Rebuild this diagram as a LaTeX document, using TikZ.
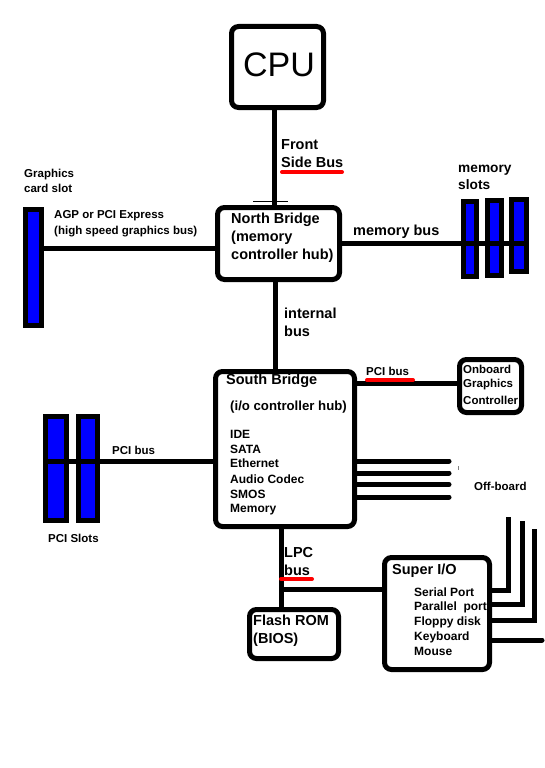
\documentclass[tikz,border=0pt]{standalone}
\usepackage{fontspec}
\setmainfont{Liberation Sans}
\begin{document}
\begin{tikzpicture}[x=1pt,y=-1pt,
  box/.style={draw=black, line width=5pt, rounded corners=7pt, inner sep=0pt, fill=white},
  slot/.style={draw=black, line width=5pt, fill=blue, inner sep=0pt},
  bus/.style={draw=black, line width=5pt},
  redline/.style={draw=red, line width=4pt, line cap=round},
  big/.style={anchor=base west, inner sep=0pt, font=\bfseries\fontsize{14.5}{16}\selectfont},
  mid/.style={anchor=base west, inner sep=0pt, font=\bfseries\fontsize{13.2}{15}\selectfont},
  sml/.style={anchor=base west, inner sep=0pt, font=\bfseries\fontsize{11.5}{13}\selectfont},
  lst/.style={anchor=base west, inner sep=0pt, font=\bfseries\fontsize{12}{14}\selectfont}]
\useasboundingbox[fill=white] (0,0) rectangle (544,768);

% ---------- boxes ----------
\node[box, minimum width=92pt, minimum height=81pt] (cpu) at (277.5,67) {};
\node[box, minimum width=122pt, minimum height=72pt] (nb) at (278.5,243.5) {};
\node[box, minimum width=139pt, minimum height=155pt] (sb) at (285,449) {};
\node[box, minimum width=62pt, minimum height=53pt] (ogc) at (490.5,386) {};
\node[box, minimum width=89pt, minimum height=49pt] (rom) at (294,634) {};
\node[box, minimum width=105pt, minimum height=112pt] (sio) at (437,613.5) {};

% ---------- slots ----------
\node[slot, minimum width=16pt, minimum height=116pt] (gs) at (33.5,267.5) {};
\node[slot, minimum width=13pt, minimum height=75pt] (ms1) at (470,239) {};
\node[slot, minimum width=14pt, minimum height=75pt] (ms2) at (494.5,238) {};
\node[slot, minimum width=15pt, minimum height=72pt] (ms3) at (519,235.5) {};
\node[slot, minimum width=21pt, minimum height=104pt] (ps1) at (56,468.5) {};
\node[slot, minimum width=19pt, minimum height=104pt] (ps2) at (88,468.5) {};

% ---------- helper coordinates ----------
\coordinate (fsbx) at (274,0);
\coordinate (intx) at (275,0);
\coordinate (lpcx) at (281,0);
\coordinate (gy) at (0,248);
\coordinate (mby) at (0,243);
\coordinate (pciy) at (0,461);
\coordinate (pcirY) at (0,383);
\coordinate (lpcy) at (0,589);
\coordinate (lpcj) at (281,589);
\coordinate (ob1) at (449,461);
\coordinate (ob2) at (449,473);
\coordinate (ob3) at (449,484.5);
\coordinate (ob4) at (449,497);
\coordinate (s1) at (508,590);  \coordinate (s1t) at (508,517);
\coordinate (s2) at (522,604);  \coordinate (s2t) at (522,521);
\coordinate (s3) at (534,620);  \coordinate (s3t) at (534,529);
\coordinate (s4) at (542,640);
\coordinate (tickL) at (253,201); \coordinate (tickR) at (288,201);
\coordinate (dotA) at (458,466); \coordinate (dotB) at (458,470);

% ---------- connectors ----------
\draw[bus] (cpu.south -| fsbx) -- (nb.north -| fsbx);
\draw[black, line width=0.8pt] (tickL) -- (tickR);
\draw[bus] (gs.east |- gy) -- (nb.west |- gy);
\draw[bus] (nb.east |- mby) -- (ms3.east |- mby);
\draw[bus] (nb.south -| intx) -- (sb.north -| intx);
\draw[bus] (ps1.west |- pciy) -- (sb.west |- pciy);
\draw[bus] (sb.east |- pcirY) -- (ogc.west |- pcirY);
\draw[bus, line cap=round] (sb.east |- ob1) -- (ob1);
\draw[bus, line cap=round] (sb.east |- ob2) -- (ob2);
\draw[bus, line cap=round] (sb.east |- ob3) -- (ob3);
\draw[bus, line cap=round] (sb.east |- ob4) -- (ob4);
\draw[gray, line width=0.8pt] (dotA) -- (dotB);
\draw[bus] (sb.south -| lpcx) -- (rom.north -| lpcx);
\draw[bus] (lpcj) -- (sio.west |- lpcy);
\draw[bus] (sio.east |- s1) -- (s1) -- (s1t);
\draw[bus] (sio.east |- s2) -- (s2) -- (s2t);
\draw[bus] (sio.east |- s3) -- (s3) -- (s3t);
\draw[bus, line cap=round] (sio.east |- s4) -- (s4);

% ---------- red underlines ----------
\coordinate (r1a) at (282,172); \coordinate (r1b) at (342,172);
\coordinate (r2a) at (367,380); \coordinate (r2b) at (413,380);
\coordinate (r3a) at (281,579); \coordinate (r3b) at (312,579);
\draw[redline] (r1a) -- (r1b);
\draw[redline] (r2a) -- (r2b);
\draw[redline] (r3a) -- (r3b);

% ---------- texts ----------
\node[anchor=base, inner sep=0pt, font=\fontsize{34}{36}\selectfont] (cput) at (279,77) {CPU};

\node[big] (fsb1) at (281,149) {Front};
\node[big] (fsb2) at (281,167) {Side Bus};

\node[big] (nb1) at (231,223) {North Bridge};
\node[big] (nb2) at (231,241.5) {(memory};
\node[big] (nb3) at (231,259) {controller hub)};

\node[big] (mbus) at (353,235.5) {memory bus};
\node[big, font=\bfseries\fontsize{13.7}{15}\selectfont] (msl1) at (458,172) {memory};
\node[big, font=\bfseries\fontsize{13.7}{15}\selectfont] (msl2) at (458,189) {slots};

\node[sml] (gcs1) at (24,177.3) {Graphics};
\node[sml] (gcs2) at (24,192.3) {card slot};
\node[sml] (agp1) at (54,218.3) {AGP or PCI Express};
\node[sml] (agp2) at (54,234.7) {(high speed graphics bus)};

\node[big] (ib1) at (284,318) {internal};
\node[big] (ib2) at (284,336) {bus};

\node[big] (sb1) at (226,384.5) {South Bridge};
\node[mid] (sb2) at (230,410) {(i/o controller hub)};
\node[lst] (l1) at (230,438.3) {IDE};
\node[lst] (l2) at (230,453.3) {SATA};
\node[lst] (l3) at (230,467.7) {Ethernet};
\node[lst] (l4) at (230,483.3) {Audio Codec};
\node[lst] (l5) at (230,498) {SMOS};
\node[lst] (l6) at (230,512.5) {Memory};

\node[sml] (pcil) at (112,454) {PCI bus};
\node[sml] (pcis) at (48,542.7) {PCI Slots};
\node[sml] (pcir) at (366,375) {PCI bus};

\node[sml] (og1) at (463,373.3) {Onboard};
\node[sml] (og2) at (463,387.3) {Graphics};
\node[sml] (og3) at (463,404) {Controller};

\node[sml] (offb) at (474,490.7) {Off-board};

\node[big] (lpc1) at (284,557) {LPC};
\node[big] (lpc2) at (284,575.5) {bus};

\node[big] (rom1) at (253,625) {Flash ROM};
\node[big] (rom2) at (253,643) {(BIOS)};

\node[big] (sio0) at (392,574) {Super I/O};
\node[lst] (sio1) at (414,596) {Serial Port};
\node[lst] (sio2) at (414,610.3) {Parallel\ \ port};
\node[lst] (sio3) at (414,625) {Floppy disk};
\node[lst] (sio4) at (414,640.3) {Keyboard};
\node[lst] (sio5) at (414,655.7) {Mouse};
\end{tikzpicture}
\end{document}
